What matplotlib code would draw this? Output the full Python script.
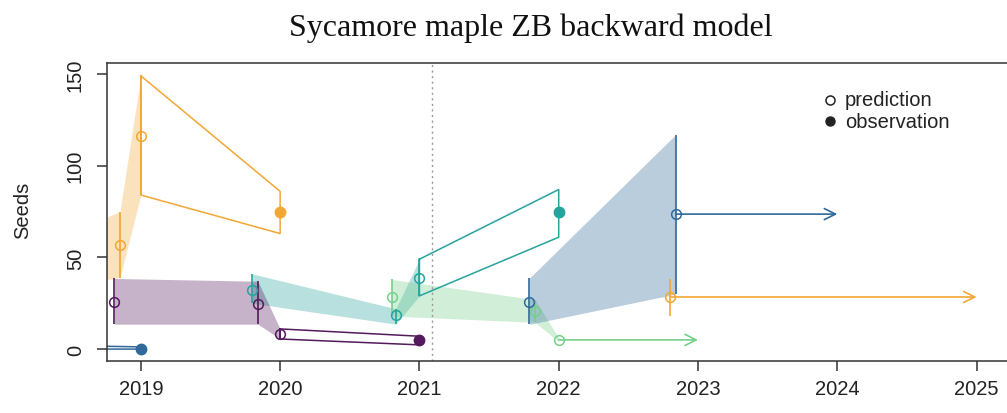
import numpy as np
import matplotlib.pyplot as plt

plt.rcParams['font.family'] = ['Liberation Sans', 'DejaVu Sans']

# colours cycle with the seed year
c_blue = '#30699a'
c_orange = '#f2a734'
c_purple = '#531a5c'
c_teal = '#26a39c'
c_green = '#74d08a'
fill_alpha = 0.33

# --- 2019 seeds (blue): forecast outline into the observation
b19_out_t = [2018.0, 2019.0]
b19_out_lo = [0.0, 0.0]
b19_out_hi = [2.5, 1.2]
b19_obs_t = 2019.0
b19_obs = 0.0

# --- 2020 seeds (orange)
o20_band_t = [2017.85, 2018.85, 2019.0]
o20_band_lo = [28, 39, 84]
o20_band_hi = [43, 75, 149]
o20_pred = [None, 57, 116]
o20_out_t = [2019.0, 2020.0]
o20_out_lo = [84, 63]
o20_out_hi = [149, 86]
o20_obs_t = 2020.0
o20_obs = 75

# --- 2021 seeds (purple)
p21_band_t = [2018.81, 2019.84, 2020.0]
p21_band_lo = [13.6, 13.6, 5.5]
p21_band_hi = [38.5, 37.0, 11]
p21_pred = [25.6, 24.5, 8]
p21_out_t = [2020.0, 2021.0]
p21_out_lo = [5.5, 2.3]
p21_out_hi = [11, 7]
p21_obs_t = 2021.0
p21_obs = 5

# --- 2022 seeds (teal)
t22_band_t = [2019.80, 2020.83, 2021.0]
t22_band_lo = [25, 13.6, 29]
t22_band_hi = [41, 22, 49]
t22_pred = [32, 18.5, 38.7]
t22_out_t = [2021.0, 2022.0]
t22_out_lo = [29, 61]
t22_out_hi = [49, 87]
t22_obs_t = 2022.0
t22_obs = 75

# --- 2023 seeds (green), not observed yet
g23_band_t = [2020.80, 2021.83, 2022.0]
g23_band_lo = [18, 14.6, 4]
g23_band_hi = [38, 27, 6]
g23_pred = [28.5, 21, 5]
g23_arrow_to = 2023.0

# --- 2024 seeds (blue)
b24_band_t = [2021.79, 2022.84]
b24_band_lo = [13.5, 30]
b24_band_hi = [38.7, 117]
b24_pred = [25.6, 73.6]
b24_arrow_to = 2024.0

# --- 2025 seeds (orange)
o25_pred_t = [2022.80]
o25_lo = [18]
o25_hi = [38]
o25_pred = [28.4]
o25_arrow_to = 2025.0

year_ticks = [2019, 2020, 2021, 2022, 2023, 2024, 2025]
seed_ticks = [0, 50, 100, 150]
cutoff = 2021.09


def band(ax, t, lo, hi, col):
    ax.fill_between(t, lo, hi, color=col, alpha=fill_alpha, lw=0)


def bars(ax, t, lo, hi, col):
    ax.vlines(t, lo, hi, color=col, lw=1.2)


def preds(ax, t, y, col):
    pts = [(a, b) for a, b in zip(t, y) if b is not None]
    ax.plot([p[0] for p in pts], [p[1] for p in pts], 'o', ms=7,
            mfc='none', mec=col, mew=1.1)


def outline(ax, t, lo, hi, col):
    xs = list(t) + list(t[::-1]) + [t[0]]
    ys = list(hi) + list(lo[::-1]) + [hi[0]]
    ax.plot(xs, ys, color=col, lw=1.1)


def obs(ax, t, y, col):
    ax.plot([t], [y], 'o', ms=7.5, color=col)


def arrow(ax, t0, t1, y, col):
    ax.annotate('', xy=(t1, y), xytext=(t0, y),
                arrowprops=dict(arrowstyle='->,head_length=0.8,head_width=0.4',
                                color=col, lw=1.2, shrinkA=0, shrinkB=0))


fig = plt.figure(figsize=(10.07, 4.14), dpi=100)
ax = fig.add_axes([107 / 1007, 52 / 414, 903 / 1007, 298 / 414])

# 2019
outline(ax, b19_out_t, b19_out_lo, b19_out_hi, c_blue)
obs(ax, b19_obs_t, b19_obs, c_blue)

# 2020
band(ax, o20_band_t, o20_band_lo, o20_band_hi, c_orange)
bars(ax, o20_band_t[1:], o20_band_lo[1:], o20_band_hi[1:], c_orange)
preds(ax, o20_band_t, o20_pred, c_orange)
outline(ax, o20_out_t, o20_out_lo, o20_out_hi, c_orange)
obs(ax, o20_obs_t, o20_obs, c_orange)

# 2022 band sits under the 2021 one
band(ax, t22_band_t, t22_band_lo, t22_band_hi, c_teal)

# 2021
band(ax, p21_band_t, p21_band_lo, p21_band_hi, c_purple)
bars(ax, p21_band_t, p21_band_lo, p21_band_hi, c_purple)
preds(ax, p21_band_t, p21_pred, c_purple)
outline(ax, p21_out_t, p21_out_lo, p21_out_hi, c_purple)
obs(ax, p21_obs_t, p21_obs, c_purple)

# 2023
band(ax, g23_band_t, g23_band_lo, g23_band_hi, c_green)
bars(ax, g23_band_t[:2], g23_band_lo[:2], g23_band_hi[:2], c_green)
preds(ax, g23_band_t, g23_pred, c_green)
arrow(ax, g23_band_t[-1], g23_arrow_to, g23_pred[-1], c_green)

# 2022
bars(ax, t22_band_t, t22_band_lo, t22_band_hi, c_teal)
preds(ax, t22_band_t, t22_pred, c_teal)
outline(ax, t22_out_t, t22_out_lo, t22_out_hi, c_teal)
obs(ax, t22_obs_t, t22_obs, c_teal)

# 2024
band(ax, b24_band_t, b24_band_lo, b24_band_hi, c_blue)
bars(ax, b24_band_t, b24_band_lo, b24_band_hi, c_blue)
preds(ax, b24_band_t, b24_pred, c_blue)
arrow(ax, b24_band_t[-1], b24_arrow_to, b24_pred[-1], c_blue)

# 2025
bars(ax, o25_pred_t, o25_lo, o25_hi, c_orange)
preds(ax, o25_pred_t, o25_pred, c_orange)
arrow(ax, o25_pred_t[0], o25_arrow_to, o25_pred[0], c_orange)

ax.axvline(cutoff, color='#999999', lw=1, ls=(0, (1.5, 2.5)))

ax.set_xlim(2018.757, 2025.24)
ax.set_ylim(-6.5, 156)
ax.set_xticks(year_ticks)
ax.set_yticks(seed_ticks)
ax.tick_params(axis='both', direction='out', length=7, width=1.1,
               color='#333333', labelsize=14.5, labelcolor='#222222')
ax.tick_params(axis='x', pad=6)
ax.tick_params(axis='y', pad=9)
for lab in ax.get_yticklabels():
    lab.set_rotation(90)
    lab.set_va('center')
for sp in ax.spines.values():
    sp.set_color('#333333')
    sp.set_linewidth(1.1)

# legend
ax.plot([0.8007], [0.876], 'o', ms=6.5, mfc='white', mec='#222222', mew=1.1,
        transform=ax.transAxes)
ax.plot([0.8007], [0.805], 'o', ms=6.5, color='#222222', transform=ax.transAxes)
ax.text(0.817, 0.876, 'prediction', transform=ax.transAxes, fontsize=14.5,
        va='center', color='#222222')
ax.text(0.817, 0.805, 'observation', transform=ax.transAxes, fontsize=14.5,
        va='center', color='#222222')

fig.text(23 / 1007, 1 - 210 / 414, 'Seeds', rotation=90, ha='center',
         va='center', fontsize=14.5, color='#222222')
fig.text(531 / 1007, 1 - 28 / 414, 'Sycamore maple ZB backward model',
         ha='center', va='center', fontsize=23, family='Liberation Serif',
         color='#111111')

fig.savefig('out.png', dpi=100)
